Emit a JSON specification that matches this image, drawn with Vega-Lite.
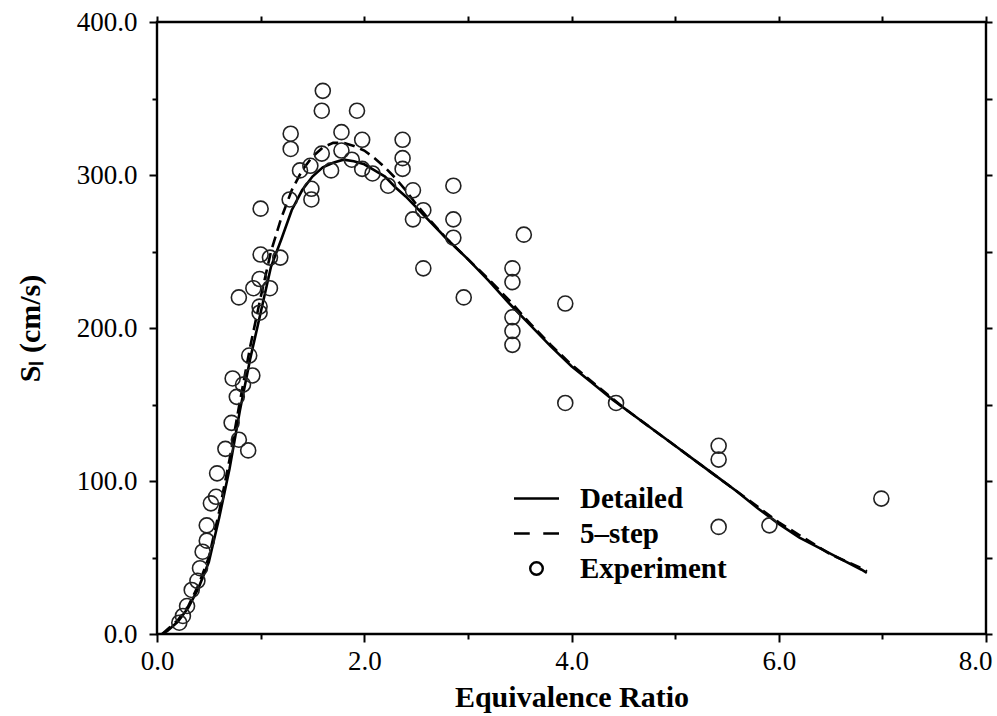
{
  "$schema": "https://vega.github.io/schema/vega-lite/v6.json",
  "width": 829,
  "height": 612,
  "autosize": {"type": "none"},
  "padding": {"left": 157, "top": 22, "right": 11, "bottom": 82},
  "background": "white",
  "config": {
    "view": {"stroke": "black", "strokeWidth": 2.4},
    "font": "Liberation Serif"
  },
  "datasets": {
    "detailed": [
      {"phi": 0.05, "sl": 0}, {"phi": 0.1, "sl": 2}, {"phi": 0.2, "sl": 8}, {"phi": 0.3, "sl": 17},
      {"phi": 0.4, "sl": 30}, {"phi": 0.5, "sl": 47}, {"phi": 0.6, "sl": 76}, {"phi": 0.7, "sl": 108},
      {"phi": 0.8, "sl": 146}, {"phi": 0.9, "sl": 180}, {"phi": 1.0, "sl": 210}, {"phi": 1.1, "sl": 240},
      {"phi": 1.2, "sl": 258}, {"phi": 1.3, "sl": 277}, {"phi": 1.4, "sl": 290}, {"phi": 1.5, "sl": 299},
      {"phi": 1.6, "sl": 305}, {"phi": 1.7, "sl": 308}, {"phi": 1.8, "sl": 310}, {"phi": 1.9, "sl": 309},
      {"phi": 2.0, "sl": 307}, {"phi": 2.1, "sl": 303}, {"phi": 2.2, "sl": 299}, {"phi": 2.3, "sl": 292},
      {"phi": 2.4, "sl": 286}, {"phi": 2.5, "sl": 279}, {"phi": 2.6, "sl": 272}, {"phi": 2.8, "sl": 258},
      {"phi": 3.0, "sl": 245}, {"phi": 3.2, "sl": 231}, {"phi": 3.4, "sl": 216}, {"phi": 3.6, "sl": 202},
      {"phi": 3.8, "sl": 188}, {"phi": 4.0, "sl": 175}, {"phi": 4.2, "sl": 164}, {"phi": 4.4, "sl": 153},
      {"phi": 4.6, "sl": 143}, {"phi": 4.8, "sl": 133}, {"phi": 5.0, "sl": 123}, {"phi": 5.2, "sl": 113},
      {"phi": 5.4, "sl": 103}, {"phi": 5.6, "sl": 93}, {"phi": 5.8, "sl": 82}, {"phi": 6.0, "sl": 72},
      {"phi": 6.2, "sl": 63}, {"phi": 6.4, "sl": 56}, {"phi": 6.6, "sl": 49}, {"phi": 6.8, "sl": 42},
      {"phi": 6.85, "sl": 40}
    ],
    "fivestep": [
      {"phi": 0.05, "sl": 0}, {"phi": 0.2, "sl": 9}, {"phi": 0.3, "sl": 18}, {"phi": 0.4, "sl": 32},
      {"phi": 0.5, "sl": 50}, {"phi": 0.6, "sl": 80}, {"phi": 0.7, "sl": 114}, {"phi": 0.8, "sl": 152},
      {"phi": 0.9, "sl": 188}, {"phi": 1.0, "sl": 220}, {"phi": 1.1, "sl": 250}, {"phi": 1.2, "sl": 272},
      {"phi": 1.3, "sl": 290}, {"phi": 1.4, "sl": 303}, {"phi": 1.5, "sl": 312}, {"phi": 1.6, "sl": 318},
      {"phi": 1.7, "sl": 321}, {"phi": 1.8, "sl": 321}, {"phi": 1.9, "sl": 319}, {"phi": 2.0, "sl": 316},
      {"phi": 2.1, "sl": 311}, {"phi": 2.2, "sl": 305}, {"phi": 2.3, "sl": 298}, {"phi": 2.4, "sl": 290},
      {"phi": 2.5, "sl": 281}, {"phi": 2.6, "sl": 273}, {"phi": 2.8, "sl": 258}, {"phi": 3.0, "sl": 245},
      {"phi": 3.2, "sl": 232}, {"phi": 3.4, "sl": 218}, {"phi": 3.6, "sl": 203}, {"phi": 3.8, "sl": 189},
      {"phi": 4.0, "sl": 176}, {"phi": 4.5, "sl": 148}, {"phi": 5.0, "sl": 123}, {"phi": 5.5, "sl": 98},
      {"phi": 6.0, "sl": 73}, {"phi": 6.5, "sl": 52}, {"phi": 6.8, "sl": 43}, {"phi": 6.85, "sl": 41}
    ],
    "experiment": [
      {"phi": 0.215, "sl": 7.4, "series": "Experiment"}, {"phi": 0.25, "sl": 11.8, "series": "Experiment"},
      {"phi": 0.29, "sl": 18.3, "series": "Experiment"}, {"phi": 0.335, "sl": 28.8, "series": "Experiment"},
      {"phi": 0.39, "sl": 34.8, "series": "Experiment"}, {"phi": 0.415, "sl": 43, "series": "Experiment"},
      {"phi": 0.44, "sl": 53.8, "series": "Experiment"}, {"phi": 0.48, "sl": 61, "series": "Experiment"},
      {"phi": 0.48, "sl": 71, "series": "Experiment"}, {"phi": 0.52, "sl": 85.4, "series": "Experiment"},
      {"phi": 0.57, "sl": 89.7, "series": "Experiment"}, {"phi": 0.58, "sl": 105, "series": "Experiment"},
      {"phi": 0.66, "sl": 121, "series": "Experiment"}, {"phi": 0.79, "sl": 127, "series": "Experiment"},
      {"phi": 0.88, "sl": 120, "series": "Experiment"}, {"phi": 0.72, "sl": 138, "series": "Experiment"},
      {"phi": 0.77, "sl": 155, "series": "Experiment"}, {"phi": 0.83, "sl": 163, "series": "Experiment"},
      {"phi": 0.73, "sl": 167, "series": "Experiment"}, {"phi": 0.92, "sl": 169, "series": "Experiment"},
      {"phi": 0.89, "sl": 182, "series": "Experiment"}, {"phi": 0.79, "sl": 220, "series": "Experiment"},
      {"phi": 0.93, "sl": 226, "series": "Experiment"}, {"phi": 1.09, "sl": 226, "series": "Experiment"},
      {"phi": 0.99, "sl": 232, "series": "Experiment"}, {"phi": 0.99, "sl": 214, "series": "Experiment"},
      {"phi": 0.99, "sl": 210, "series": "Experiment"}, {"phi": 1.0, "sl": 248, "series": "Experiment"},
      {"phi": 1.09, "sl": 246, "series": "Experiment"}, {"phi": 1.19, "sl": 246, "series": "Experiment"},
      {"phi": 1.0, "sl": 278, "series": "Experiment"}, {"phi": 1.28, "sl": 284, "series": "Experiment"},
      {"phi": 1.49, "sl": 284, "series": "Experiment"}, {"phi": 1.49, "sl": 291, "series": "Experiment"},
      {"phi": 1.29, "sl": 317, "series": "Experiment"}, {"phi": 1.29, "sl": 327, "series": "Experiment"},
      {"phi": 1.38, "sl": 303, "series": "Experiment"}, {"phi": 1.48, "sl": 306, "series": "Experiment"},
      {"phi": 1.59, "sl": 314, "series": "Experiment"}, {"phi": 1.68, "sl": 303, "series": "Experiment"},
      {"phi": 1.78, "sl": 316, "series": "Experiment"}, {"phi": 1.78, "sl": 328, "series": "Experiment"},
      {"phi": 1.88, "sl": 310, "series": "Experiment"}, {"phi": 1.98, "sl": 304, "series": "Experiment"},
      {"phi": 1.98, "sl": 323, "series": "Experiment"}, {"phi": 2.08, "sl": 301, "series": "Experiment"},
      {"phi": 2.23, "sl": 293, "series": "Experiment"}, {"phi": 2.37, "sl": 323, "series": "Experiment"},
      {"phi": 2.37, "sl": 311, "series": "Experiment"}, {"phi": 2.37, "sl": 304, "series": "Experiment"},
      {"phi": 2.47, "sl": 290, "series": "Experiment"}, {"phi": 2.57, "sl": 277, "series": "Experiment"},
      {"phi": 2.47, "sl": 271, "series": "Experiment"}, {"phi": 2.57, "sl": 239, "series": "Experiment"},
      {"phi": 2.86, "sl": 293, "series": "Experiment"}, {"phi": 2.86, "sl": 271, "series": "Experiment"},
      {"phi": 2.86, "sl": 259, "series": "Experiment"}, {"phi": 2.96, "sl": 220, "series": "Experiment"},
      {"phi": 3.43, "sl": 239, "series": "Experiment"}, {"phi": 3.43, "sl": 230, "series": "Experiment"},
      {"phi": 3.54, "sl": 261, "series": "Experiment"}, {"phi": 3.43, "sl": 207, "series": "Experiment"},
      {"phi": 3.43, "sl": 198, "series": "Experiment"}, {"phi": 3.43, "sl": 189, "series": "Experiment"},
      {"phi": 3.94, "sl": 216, "series": "Experiment"}, {"phi": 3.94, "sl": 151, "series": "Experiment"},
      {"phi": 4.43, "sl": 151, "series": "Experiment"}, {"phi": 5.42, "sl": 123, "series": "Experiment"},
      {"phi": 5.42, "sl": 114, "series": "Experiment"}, {"phi": 5.42, "sl": 70, "series": "Experiment"},
      {"phi": 5.91, "sl": 71, "series": "Experiment"}, {"phi": 6.99, "sl": 88.5, "series": "Experiment"},
      {"phi": 1.60, "sl": 355, "series": "Experiment"}, {"phi": 1.59, "sl": 342, "series": "Experiment"},
      {"phi": 1.93, "sl": 342, "series": "Experiment"}
    ]
  },
  "layer": [
    {
      "data": {"name": "detailed"},
      "mark": {"type": "line", "stroke": "black", "strokeWidth": 2.6, "clip": true},
      "encoding": {
        "x": {
          "field": "phi", "type": "quantitative",
          "scale": {"domain": [0, 8], "nice": false, "zero": false},
          "axis": {
            "orient": "bottom", "values": [0, 2, 4, 6, 8], "format": ".1f",
            "domain": false, "grid": false, "ticks": true,
            "tickColor": "black", "tickWidth": 2, "tickSize": 8,
            "labelFont": "Liberation Serif", "labelFontSize": 27, "labelColor": "black",
            "labelPadding": 6, "labelFlush": false, "labelOverlap": false,
            "labelOffset": {"condition": {"test": "datum.value === 8", "value": -11}, "value": 0},
            "title": "Equivalence Ratio", "titleFont": "Liberation Serif", "titleFontSize": 30,
            "titleFontWeight": "bold", "titleColor": "black", "titlePadding": 8
          }
        },
        "y": {
          "field": "sl", "type": "quantitative",
          "scale": {"domain": [0, 400], "nice": false},
          "axis": {
            "orient": "left", "values": [0, 100, 200, 300, 400], "format": ".1f",
            "domain": false, "grid": false, "ticks": true,
            "tickColor": "black", "tickWidth": 2, "tickSize": 8,
            "labelFont": "Liberation Serif", "labelFontSize": 27, "labelColor": "black",
            "labelPadding": 12, "labelFlush": false, "labelOverlap": false,
            "title": "Sₗ (cm/s)", "titleFont": "Liberation Serif", "titleFontSize": 30,
            "titleFontWeight": "bold", "titleColor": "black", "titlePadding": 31
          }
        }
      }
    },
    {
      "data": {"name": "fivestep"},
      "mark": {"type": "line", "stroke": "black", "strokeWidth": 2.6, "strokeDash": [11, 6], "clip": true},
      "encoding": {
        "x": {
          "field": "phi", "type": "quantitative",
          "axis": {
            "orient": "bottom", "values": [1, 3, 5, 7], "labels": false,
            "domain": false, "grid": false, "title": null, "ticks": true,
            "tickColor": "black", "tickWidth": 2, "tickSize": 5
          }
        },
        "y": {
          "field": "sl", "type": "quantitative",
          "axis": {
            "orient": "left", "values": [50, 150, 250, 350], "labels": false,
            "domain": false, "grid": false, "title": null, "ticks": true,
            "tickColor": "black", "tickWidth": 2, "tickSize": 5
          }
        }
      }
    },
    {
      "data": {"name": "experiment"},
      "mark": {"type": "point", "filled": false, "stroke": "#222", "strokeWidth": 1.6, "size": 1276, "opacity": 1},
      "encoding": {
        "x": {
          "field": "phi", "type": "quantitative",
          "axis": {
            "orient": "top", "values": [0, 1, 2, 3, 4, 5, 6, 7, 8], "labels": false,
            "domain": false, "grid": false, "title": null, "ticks": true,
            "tickColor": "black", "tickWidth": 2, "tickSize": 6
          }
        },
        "y": {
          "field": "sl", "type": "quantitative",
          "axis": {
            "orient": "right", "values": [0, 50, 100, 150, 200, 250, 300, 350, 400], "labels": false,
            "domain": false, "grid": false, "title": null, "ticks": true,
            "tickColor": "black", "tickWidth": 2, "tickSize": 6
          }
        },
        "shape": {
          "field": "series", "type": "nominal",
          "scale": {
            "domain": ["Detailed", "5–step", "Experiment"],
            "range": ["M-1.5,0H1.5", "M-1.5,0H-0.45M0.45,0H1.5", "M0.42,0A0.42,0.42 0 1,1 -0.42,0A0.42,0.42 0 1,1 0.42,0"]
          },
          "legend": {
            "title": null, "orient": "none", "legendX": 363, "legendY": 460,
            "symbolSize": 900, "symbolStrokeWidth": 2.4, "symbolStrokeColor": "black",
            "symbolFillColor": "transparent", "symbolOpacity": 1,
            "labelFont": "Liberation Serif", "labelFontSize": 29, "labelFontWeight": "bold",
            "labelColor": "black", "labelOffset": 27, "labelLimit": 400,
            "rowPadding": 3
          }
        }
      }
    }
  ],
  "resolve": {"axis": {"x": "independent", "y": "independent"}}
}
